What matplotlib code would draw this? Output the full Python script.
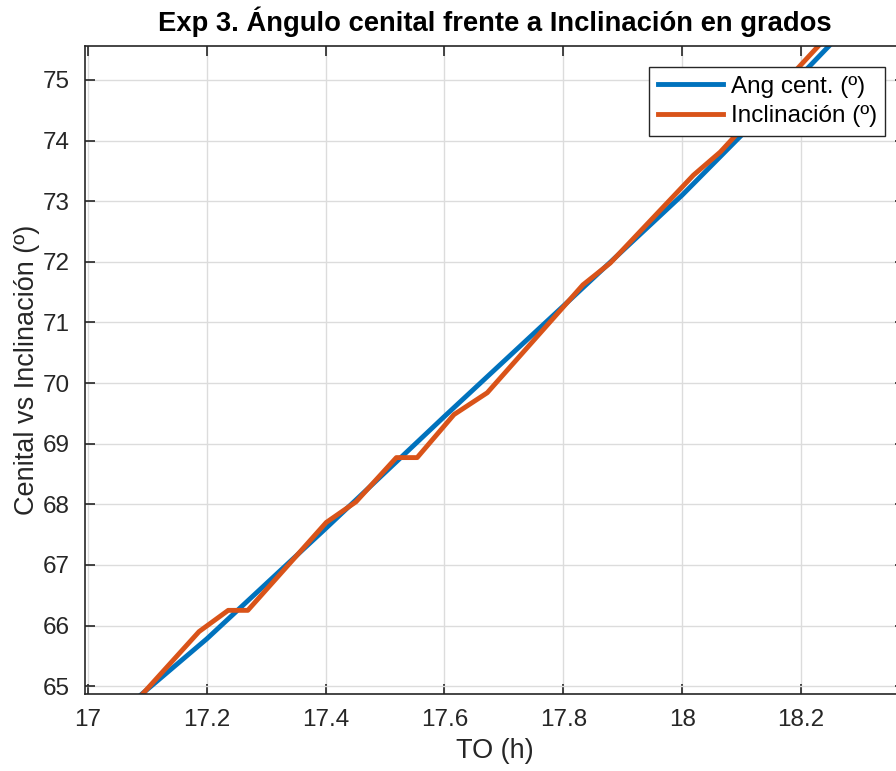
import matplotlib
matplotlib.use("Agg")
import matplotlib.pyplot as plt

plt.rcParams['font.family'] = ['Liberation Sans', 'DejaVu Sans']

# hora (TO) y angulo cenital calculado
t_cenital = [17.08, 17.2, 17.4, 17.6, 17.8, 18.0, 18.2, 18.3]
ang_cenital = [64.78, 65.78, 67.6, 69.45, 71.27, 73.1, 75.08, 76.1]

# hora (TO) y inclinacion medida
t_incl = [17.09, 17.187, 17.236, 17.269, 17.401, 17.451, 17.519, 17.554,
          17.616, 17.672, 17.833, 17.879, 18.019, 18.064, 18.25]
inclinacion = [64.85, 65.9, 66.25, 66.25, 67.7, 68.04, 68.77, 68.77,
               69.48, 69.84, 71.62, 71.98, 73.43, 73.81, 75.78]

W, H = 896, 771
fig = plt.figure(figsize=(W / 100, H / 100), dpi=100)
ax = fig.add_axes([85 / W, (H - 694) / H, (905 - 85) / W, (694 - 46) / H])

ax.plot(t_cenital, ang_cenital, color='#0072BD', lw=3.5, label='Ang cent. (º)')
ax.plot(t_incl, inclinacion, color='#D95319', lw=3.5, label='Inclinación (º)')

ax.set_xlim(16.995, 18.375)
ax.set_ylim(64.87, 75.56)
ax.set_xticks([17, 17.2, 17.4, 17.6, 17.8, 18, 18.2])
ax.set_xticklabels(['17', '17.2', '17.4', '17.6', '17.8', '18', '18.2'])
ax.set_yticks(range(65, 76))

ax.grid(True, color='#dcdcdc', lw=1.0)
ax.set_axisbelow(True)
for s in ax.spines.values():
    s.set_color('#262626')
    s.set_linewidth(1.2)
ax.tick_params(direction='in', length=7, width=1.2, color='#262626',
               labelsize=17.5, labelcolor='#262626', top=True, right=True, pad=11)

ax.set_xlabel('TO (h)', fontsize=19.5, color='#262626', labelpad=5)
ax.set_ylabel('Cenital vs Inclinación (º)', fontsize=19.5, color='#262626', labelpad=2)
ax.set_title('Exp 3. Ángulo cenital frente a Inclinación en grados',
             fontsize=19.7, fontweight='bold', pad=11)

leg = ax.legend(loc='upper right', bbox_to_anchor=(0.976, 0.967), fontsize=17.5,
                fancybox=False, framealpha=1, edgecolor='#262626',
                handlelength=2.7, handletextpad=0.3, borderpad=0.35,
                labelspacing=0.3, borderaxespad=0)
leg.get_frame().set_linewidth(1.0)

fig.savefig('out.png', dpi=100)
